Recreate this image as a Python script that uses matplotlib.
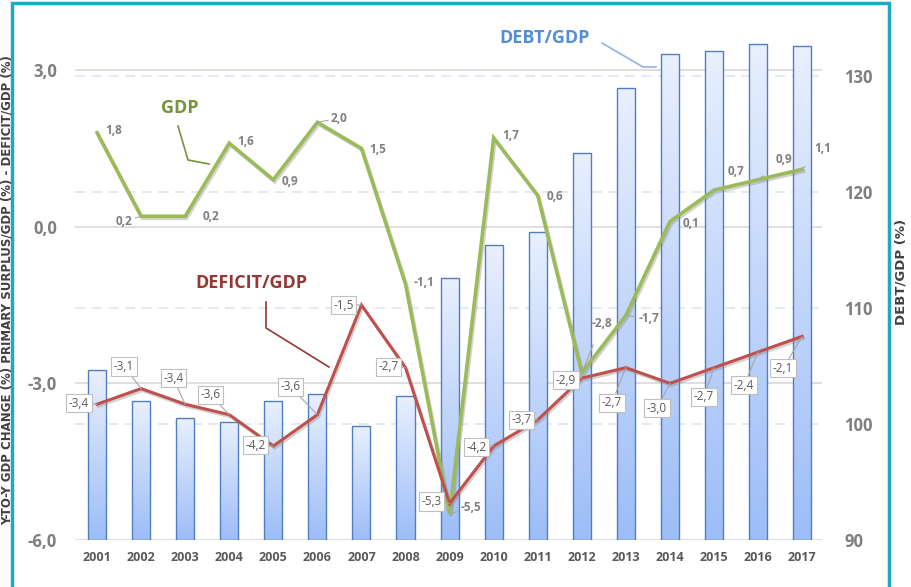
import numpy as np
import matplotlib
matplotlib.use("Agg")
import matplotlib.pyplot as plt
import matplotlib.patheffects as pe
from matplotlib.lines import Line2D
from matplotlib.patches import Rectangle
from matplotlib import transforms

years = ["2001", "2002", "2003", "2004", "2005", "2006", "2007", "2008", "2009",
         "2010", "2011", "2012", "2013", "2014", "2015", "2016", "2017"]
gdp = [1.8, 0.2, 0.2, 1.6, 0.9, 2.0, 1.5, -1.1, -5.5, 1.7, 0.6, -2.8, -1.7, 0.1, 0.7, 0.9, 1.1]
deficit = [-3.4, -3.1, -3.4, -3.6, -4.2, -3.6, -1.5, -2.7, -5.3, -4.2, -3.7, -2.9, -2.7, -3.0, -2.7, -2.4, -2.1]
debt = [104.7, 102.0, 100.5, 100.2, 102.0, 102.6, 99.8, 102.4, 112.6, 115.4, 116.6,
        123.4, 129.0, 131.9, 132.2, 132.8, 132.6]

# label offsets in pixels (dx, dy) and whether a leader line is drawn
gdp_off = [(17, 2), (-17, -5), (26, 0), (16, 2), (17, -2), (22, 4), (16, -1), (18, 2), (21, 6),
           (17, 2), (17, -1), (20, 49), (23, -3), (21, -2), (22, 19), (26, 20), (21, 21)]
gdp_lead = [0, 1, 1, 0, 0, 1, 0, 0, 1, 0, 0, 1, 1, 0, 1, 1, 1]
def_off = [(-18, 1), (-17, 22), (-12, 26), (-19, 20), (-18, 1), (-27, 28), (-18, 0), (-17, 1),
           (-18, 2), (-17, -1), (-16, 0), (-16, -2), (-14, -35), (-13, -25), (-10, -29),
           (-14, -33), (-19, -32)]

W, H = 912, 587
fig = plt.figure(figsize=(W / 100, H / 100), dpi=100, facecolor="white")

def fx(px):
    return px / W

def fy(py):
    return 1 - py / H

ax = fig.add_axes([fx(75), fy(540), fx(822) - fx(75), fy(10) - fy(540)])
ax2 = ax.twinx()
ax.set_zorder(ax2.get_zorder() + 1)
ax.patch.set_visible(False)

x = np.arange(len(years))
ax.set_xlim(-0.5, 16.45)
ax.set_ylim(-6, 4.15)
ax2.set_ylim(90, 135.7)

for a in (ax, ax2):
    for s in a.spines.values():
        s.set_visible(False)

# gridlines (behind bars)
btr = transforms.blended_transform_factory(ax2.transAxes, ax.transData)
for v in [3, 0, -3, -6]:
    ax2.add_line(Line2D([0, 1], [v, v], transform=btr, color="#d9d9d9", lw=1.2, zorder=0))
for v in [100, 110, 120, 130]:
    ax2.axhline(v, color="#dce6f2", lw=1.2, ls=(0, (6, 4)), zorder=0)

# gradient bars
bw = 0.41
bars = ax2.bar(x, np.array(debt) - 90, bottom=90, width=bw, color="none",
               edgecolor="#4f7fc0", linewidth=1.0, zorder=2)
grad = np.linspace(0, 1, 256).reshape(-1, 1)
cmap = matplotlib.colors.LinearSegmentedColormap.from_list("g", ["#e9f0fd", "#9dbdf8"])
for b, xi, d in zip(bars, x, debt):
    im = ax2.imshow(grad, extent=(xi - bw / 2, xi + bw / 2, 90, d), cmap=cmap,
                    aspect="auto", zorder=1, origin="upper")
    im.set_clip_path(b)
ax2.set_xlim(-0.5, 16.45)
ax2.set_ylim(90, 135.7)

shadow = [pe.SimpleLineShadow(offset=(1, -1.5), shadow_color="gray", alpha=0.35), pe.Normal()]
ax.plot(x, gdp, color="#9bbb59", lw=2.6, zorder=3, path_effects=shadow, solid_joinstyle="miter")
ax.plot(x, deficit, color="#c0504d", lw=2.2, zorder=4, path_effects=shadow, solid_joinstyle="miter")

def fmt(v):
    return f"{v:.1f}".replace(".", ",")

for xi, v, (dx, dy), ld in zip(x, gdp, gdp_off, gdp_lead):
    ax.annotate(fmt(v), (xi, v), xytext=(dx, dy), textcoords="offset pixels",
                ha="center", va="center", fontsize=8.5, fontweight="bold",
                color="#7f7f7f", family="Open Sans", zorder=6,
                arrowprops=dict(arrowstyle="-", color="#a6a6a6", lw=0.8,
                                shrinkA=9, shrinkB=0) if ld else None)

for xi, v, (dx, dy) in zip(x, deficit, def_off):
    ax.annotate(fmt(v), (xi, v), xytext=(dx, dy), textcoords="offset pixels",
                ha="center", va="center", fontsize=8.5, color="#595959",
                family="Open Sans", zorder=7,
                bbox=dict(boxstyle="square,pad=0.22", fc="white", ec="#bfbfbf", lw=0.8),
                arrowprops=dict(arrowstyle="-", color="#a6a6a6", lw=0.8,
                                shrinkA=0, shrinkB=0))

ax.set_yticks([3, 0, -3, -6])
ax.set_yticklabels(["3,0", "0,0", "-3,0", "-6,0"], fontsize=12, fontweight="bold",
                   color="#7f7f7f", family="Open Sans")
ax.tick_params(axis="y", which="both", length=0, pad=13)
ax2.set_yticks([90, 100, 110, 120, 130])
ax2.set_yticklabels(["90", "100", "110", "120", "130"], fontsize=12, fontweight="bold",
                    color="#7f7f7f", family="Open Sans")
ax2.tick_params(axis="y", which="both", length=0, pad=16)
ax.set_xticks(x)
ax.set_xticklabels(years, fontsize=9, fontweight="bold", color="#595959", family="Open Sans")
ax.tick_params(axis="x", length=0, pad=8)

# series names with leaders
fig.text(fx(180), fy(108), "GDP", ha="center", va="center", fontsize=13,
         fontweight="bold", color="#76923c", family="Open Sans")
fig.add_artist(Line2D([fx(178), fx(188), fx(209)], [fy(126), fy(160), fy(164)],
                      color="#76923c", lw=1.2, transform=fig.transFigure))
fig.text(fx(251), fy(283), "DEFICIT/GDP", ha="center", va="center", fontsize=13,
         fontweight="bold", color="#953735", family="Open Sans")
fig.add_artist(Line2D([fx(266), fx(266), fx(329)], [fy(302), fy(328), fy(367)],
                      color="#953735", lw=1.2, transform=fig.transFigure))
fig.text(fx(545), fy(38), "DEBT/GDP", ha="center", va="center", fontsize=13,
         fontweight="bold", color="#558ed5", family="Open Sans")
fig.add_artist(Line2D([fx(602), fx(643), fx(656)], [fy(43), fy(67), fy(67)],
                      color="#8eb4e3", lw=1.2, transform=fig.transFigure))

# axis titles
fig.text(fx(7), fy(290), "Y-TO-Y GDP CHANGE (%) PRIMARY SURPLUS/GDP (%) - DEFICIT/GDP (%)",
         rotation=90, ha="center", va="center", fontsize=8.5, fontweight="bold",
         color="#404040", family="DejaVu Sans Condensed")
fig.text(fx(901), fy(272), "DEBT/GDP (%)", rotation=90, ha="center", va="center",
         fontsize=9.5, fontweight="bold", color="#404040",
         family="DejaVu Sans Condensed")

# frame
fig.add_artist(Rectangle((fx(12), fy(600)), fx(889) - fx(12), fy(3) - fy(600),
                         transform=fig.transFigure, fill=False, ec="#1ea9c2", lw=2.5))

fig.savefig("out.png", dpi=100, facecolor="white")
